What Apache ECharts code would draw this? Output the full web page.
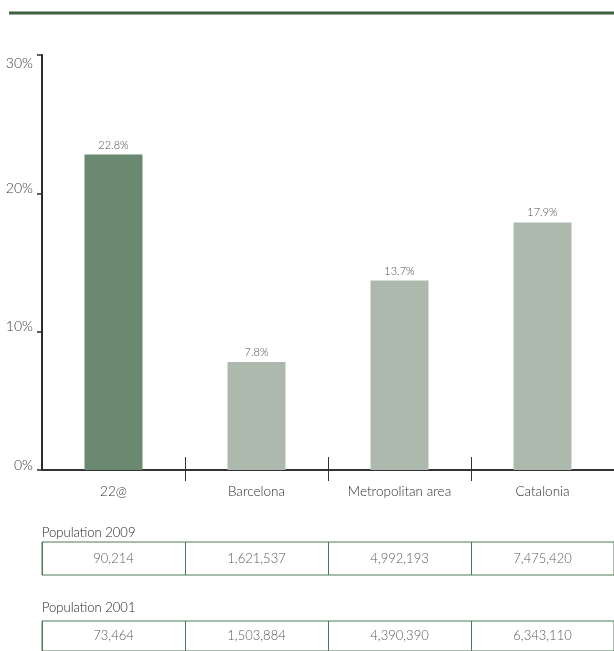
<!DOCTYPE html>
<html>
<head>
<meta charset="utf-8">
<script src="https://cdn.jsdelivr.net/npm/echarts@6/dist/echarts.min.js"></script>
<style>html,body{margin:0;padding:0;background:#fff}#c{width:614px;height:651px}</style>
</head>
<body>
<div id="c"></div>
<script>
const categories = ['22@', 'Barcelona', 'Metropolitan area', 'Catalonia'];
const shareValues = [22.8, 7.8, 13.7, 17.9];
const pop2009 = [90214, 1621537, 4992193, 7475420];
const pop2001 = [73464, 1503884, 4390390, 6343110];
const yTicks = [0, 10, 20, 30];
const tableTitles = ['Population 2009', 'Population 2001'];

const FONT = 'Lato';
const darkBar = '#6b8870';
const lightBar = '#aeb9ad';
const tableGreen = '#4d7a57';

const chart = echarts.init(document.getElementById('c'), null, {renderer: 'canvas'});
const tickFilter = (idx) => idx !== 0;

function tableGrid(top) {
  return {left: 42, top: top, width: 576, height: 33, show: true,
    borderColor: tableGreen, borderWidth: 1, backgroundColor: 'transparent'};
}
function tableXAxis(gi) {
  return {type: 'category', gridIndex: gi, data: categories,
    axisLine: {show: false}, axisTick: {show: false}, axisLabel: {show: false},
    splitLine: {show: true, lineStyle: {color: tableGreen, width: 1}}};
}
function tableSeries(ai, vals) {
  return {type: 'scatter', xAxisIndex: ai, yAxisIndex: ai - 1,
    data: categories.map((c, i) => [c, 0.5, vals[i]]),
    symbol: 'circle', symbolSize: 1, itemStyle: {color: 'transparent'},
    silent: true,
    label: {show: true, position: 'inside', fontFamily: FONT, fontWeight: 300, fontSize: 13, color: '#2e2e2e',
      formatter: p => p.value[2].toLocaleString('en-US')}};
}

chart.setOption({
  animation: false,
  textStyle: {fontFamily: FONT},
  title: tableTitles.map((t, i) => ({text: t, left: 42, top: i === 0 ? 526 : 601, padding: 0,
    textStyle: {fontFamily: FONT, fontSize: 13, fontWeight: 300, color: '#222'}})),
  graphic: [{type: 'line', shape: {x1: 9, y1: 13, x2: 614, y2: 13},
    style: {stroke: '#3e6140', lineWidth: 3}}],
  grid: [
    {left: 42, top: 55, width: 576, height: 415},
    tableGrid(542),
    tableGrid(621)
  ],
  xAxis: [
    {type: 'category', gridIndex: 0, position: 'bottom', data: categories,
      axisLine: {lineStyle: {color: '#333', width: 2}},
      axisTick: {show: true, length: 11, interval: tickFilter, lineStyle: {color: '#333', width: 1}},
      axisLabel: {margin: 15, fontSize: 13.5, fontWeight: 300, color: '#2e2e2e', fontFamily: FONT}},
    {type: 'category', gridIndex: 0, position: 'bottom', data: categories,
      axisLine: {show: false},
      axisTick: {show: true, inside: true, length: 13, interval: tickFilter, lineStyle: {color: '#333', width: 1}},
      axisLabel: {show: false}},
    tableXAxis(1),
    tableXAxis(2)
  ],
  yAxis: [
    {type: 'value', gridIndex: 0, min: yTicks[0], max: yTicks[yTicks.length - 1], interval: 10,
      splitLine: {show: false},
      axisLine: {show: true, lineStyle: {color: '#2b2b2b', width: 2}},
      axisTick: {show: true, length: 5, lineStyle: {color: '#2b2b2b', width: 1.5}},
      axisLabel: {margin: 9, fontSize: 14, color: '#3a3a3a', fontFamily: FONT,
        formatter: v => (v === 30 ? '{d|' : '{u|') + v + '%}',
        rich: {u: {padding: [0, 0, 10, 0], fontSize: 14, fontWeight: 300, color: '#3a3a3a', fontFamily: FONT},
               d: {padding: [16, 0, 0, 0], fontSize: 14, fontWeight: 300, color: '#3a3a3a', fontFamily: FONT}}}},
    {type: 'value', gridIndex: 1, min: 0, max: 1, show: false},
    {type: 'value', gridIndex: 2, min: 0, max: 1, show: false}
  ],
  series: [
    {type: 'bar', xAxisIndex: 0, yAxisIndex: 0, barWidth: 58,
      data: shareValues.map((v, i) => ({value: v, itemStyle: {color: i === 0 ? darkBar : lightBar}})),
      label: {show: true, position: 'top', distance: 4, fontSize: 11, fontWeight: 300, color: '#4a4a4a', fontFamily: FONT,
        formatter: '{c}%'}},
    tableSeries(2, pop2009),
    tableSeries(3, pop2001)
  ]
});
</script>
</body>
</html>
